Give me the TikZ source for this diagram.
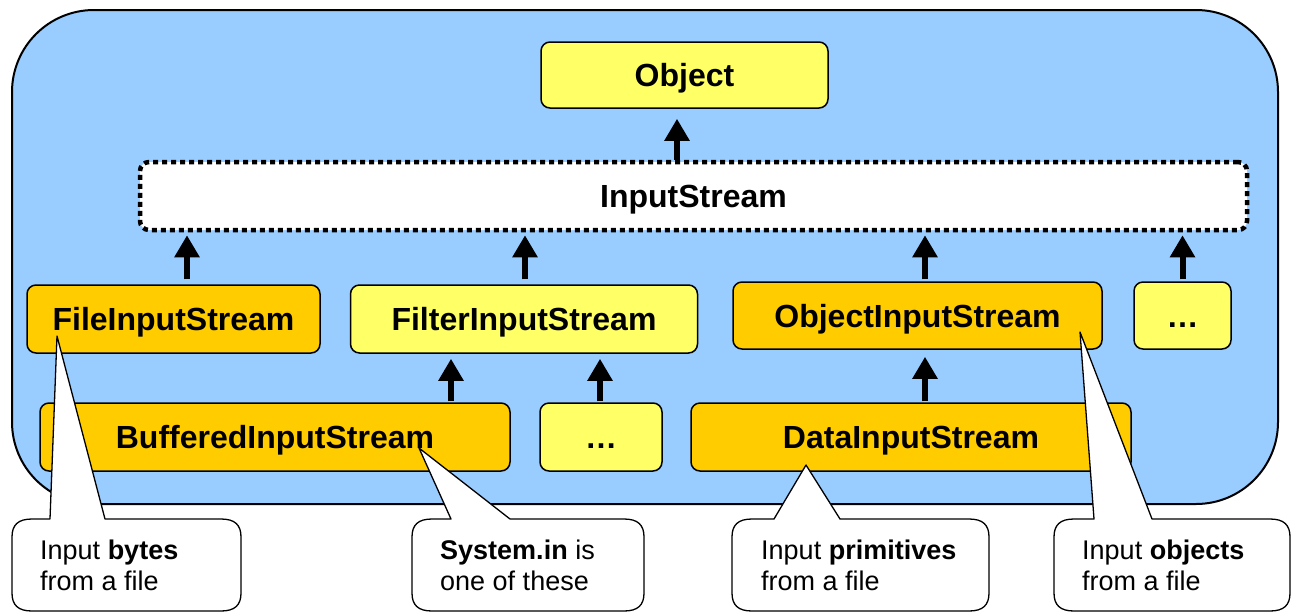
\documentclass[tikz,border=0pt]{standalone}
\usepackage{fontspec}
\setmainfont{Liberation Sans}
\usetikzlibrary{arrows.meta,calc}
\definecolor{bgblue}{HTML}{99CCFF}
\definecolor{yel}{HTML}{FFFF66}
\definecolor{gold}{HTML}{FFCC00}
\tikzset{
  cls/.style={draw=black, line width=1.5pt, rounded corners=9pt, inner sep=0pt,
    text height=23pt, text depth=0pt,
    font=\fontsize{32}{38}\selectfont\bfseries},
  isbox/.style={draw=black, fill=white, line width=4.5pt, dash pattern=on 5pt off 4pt,
    rounded corners=9pt, inner sep=0pt, text height=23pt, text depth=0pt,
    font=\fontsize{32}{38}\selectfont\bfseries},
  inh/.style={line width=6pt, -{Triangle[width=24pt,length=22pt]}},
  calloutshape/.style={draw=black, fill=white, line width=1.3pt, line join=round},
  ctext/.style={inner sep=0pt, anchor=base west, font=\fontsize{27}{32}\selectfont}
}
\newcommand\mycallout[7]{%
  \draw[calloutshape] (#1,{#3+18}) .. controls (#1,{#3+6}) and ({#1+6},#3) .. ({#1+20},#3)
    -- (#5,#3) -- (#7) -- (#6,#3) -- ({#2-20},#3)
    .. controls ({#2-6},#3) and (#2,{#3+6}) .. (#2,{#3+18})
    -- (#2,{#4-18}) .. controls (#2,{#4-6}) and ({#2-6},#4) .. ({#2-20},#4)
    -- ({#1+20},#4) .. controls ({#1+6},#4) and (#1,{#4-6}) .. (#1,{#4-18}) -- cycle;}
\begin{document}
\begin{tikzpicture}[x=1pt,y=-1pt]
\useasboundingbox (0,0) rectangle (1295,614);
% container
\node[draw=black, fill=bgblue, line width=2pt, rounded corners=82pt, inner sep=0pt,
  minimum width=1266pt, minimum height=494pt] (frame) at (645,257) {};
% classes
\node[cls, fill=yel, minimum width=287pt, minimum height=66pt] (obj) at (684.5,75) {Object};
\node[isbox, minimum width=1107pt, minimum height=68pt] (is) at (693.5,196) {InputStream};
\node[cls, fill=gold, minimum width=293pt, minimum height=68pt] (fis) at (173.5,319) {FileInputStream};
\node[cls, fill=yel, minimum width=347pt, minimum height=68pt] (filt) at (524,319) {FilterInputStream};
\node[cls, fill=gold, minimum width=369pt, minimum height=67pt] (ois) at (917.5,315.5) {ObjectInputStream};
\node[cls, fill=yel, minimum width=97pt, minimum height=67pt] (dots1) at (1182.5,315.5) {…};
\node[cls, fill=gold, minimum width=470pt, minimum height=68pt] (bis) at (275,437) {BufferedInputStream};
\node[cls, fill=yel, minimum width=122pt, minimum height=68pt] (dots2) at (601,437) {…};
\node[cls, fill=gold, minimum width=440pt, minimum height=68pt] (dis) at (911,437) {DataInputStream};
% inheritance arrows
\draw[inh] ($(is.north)+(-16.5,0)$) -- ($(obj.south)+(-7.5,10)$);
\draw[inh] ($(fis.north)+(13.5,-5)$) -- ($(fis.north |- is.south)+(13.5,3)$);
\draw[inh] ($(filt.north)+(1,-5)$) -- ($(filt.north |- is.south)+(1,3)$);
\draw[inh] ($(ois.north)+(7.5,-2)$) -- ($(ois.north |- is.south)+(7.5,3)$);
\draw[inh] ($(dots1.north)+(0,-2)$) -- ($(dots1.north |- is.south)+(0,3)$);
\draw[inh] ($(bis.north)+(176,-1)$) -- ($(bis.north |- filt.south)+(176,5)$);
\draw[inh] ($(dots2.north)+(-1,-1)$) -- ($(dots2.north |- filt.south)+(-1,5)$);
\draw[inh] ($(dis.north)+(14,-1)$) -- ($(dis.north |- ois.south)+(14,7)$);
% callouts
\coordinate (t1) at (57,336);
\coordinate (t2) at (419,448);
\coordinate (t3) at (806,465);
\coordinate (t4) at (1080,332);
\mycallout{12}{241}{519}{611}{50}{105}{t1}
\mycallout{412}{644}{519}{611}{451}{510}{t2}
\mycallout{732}{989}{519}{611}{774}{840}{t3}
\mycallout{1054}{1290}{519}{611}{1094}{1152}{t4}
\node[ctext] (c1a) at (40,559) {Input \textbf{bytes}};
\node[ctext] (c1b) at (40,590) {from a file};
\node[ctext] (c2a) at (440,559) {\textbf{System.in} is};
\node[ctext] (c2b) at (440,590) {one of these};
\node[ctext] (c3a) at (761,559) {Input \textbf{primitives}};
\node[ctext] (c3b) at (761,590) {from a file};
\node[ctext] (c4a) at (1082,559) {Input \textbf{objects}};
\node[ctext] (c4b) at (1082,590) {from a file};
\end{tikzpicture}
\end{document}
